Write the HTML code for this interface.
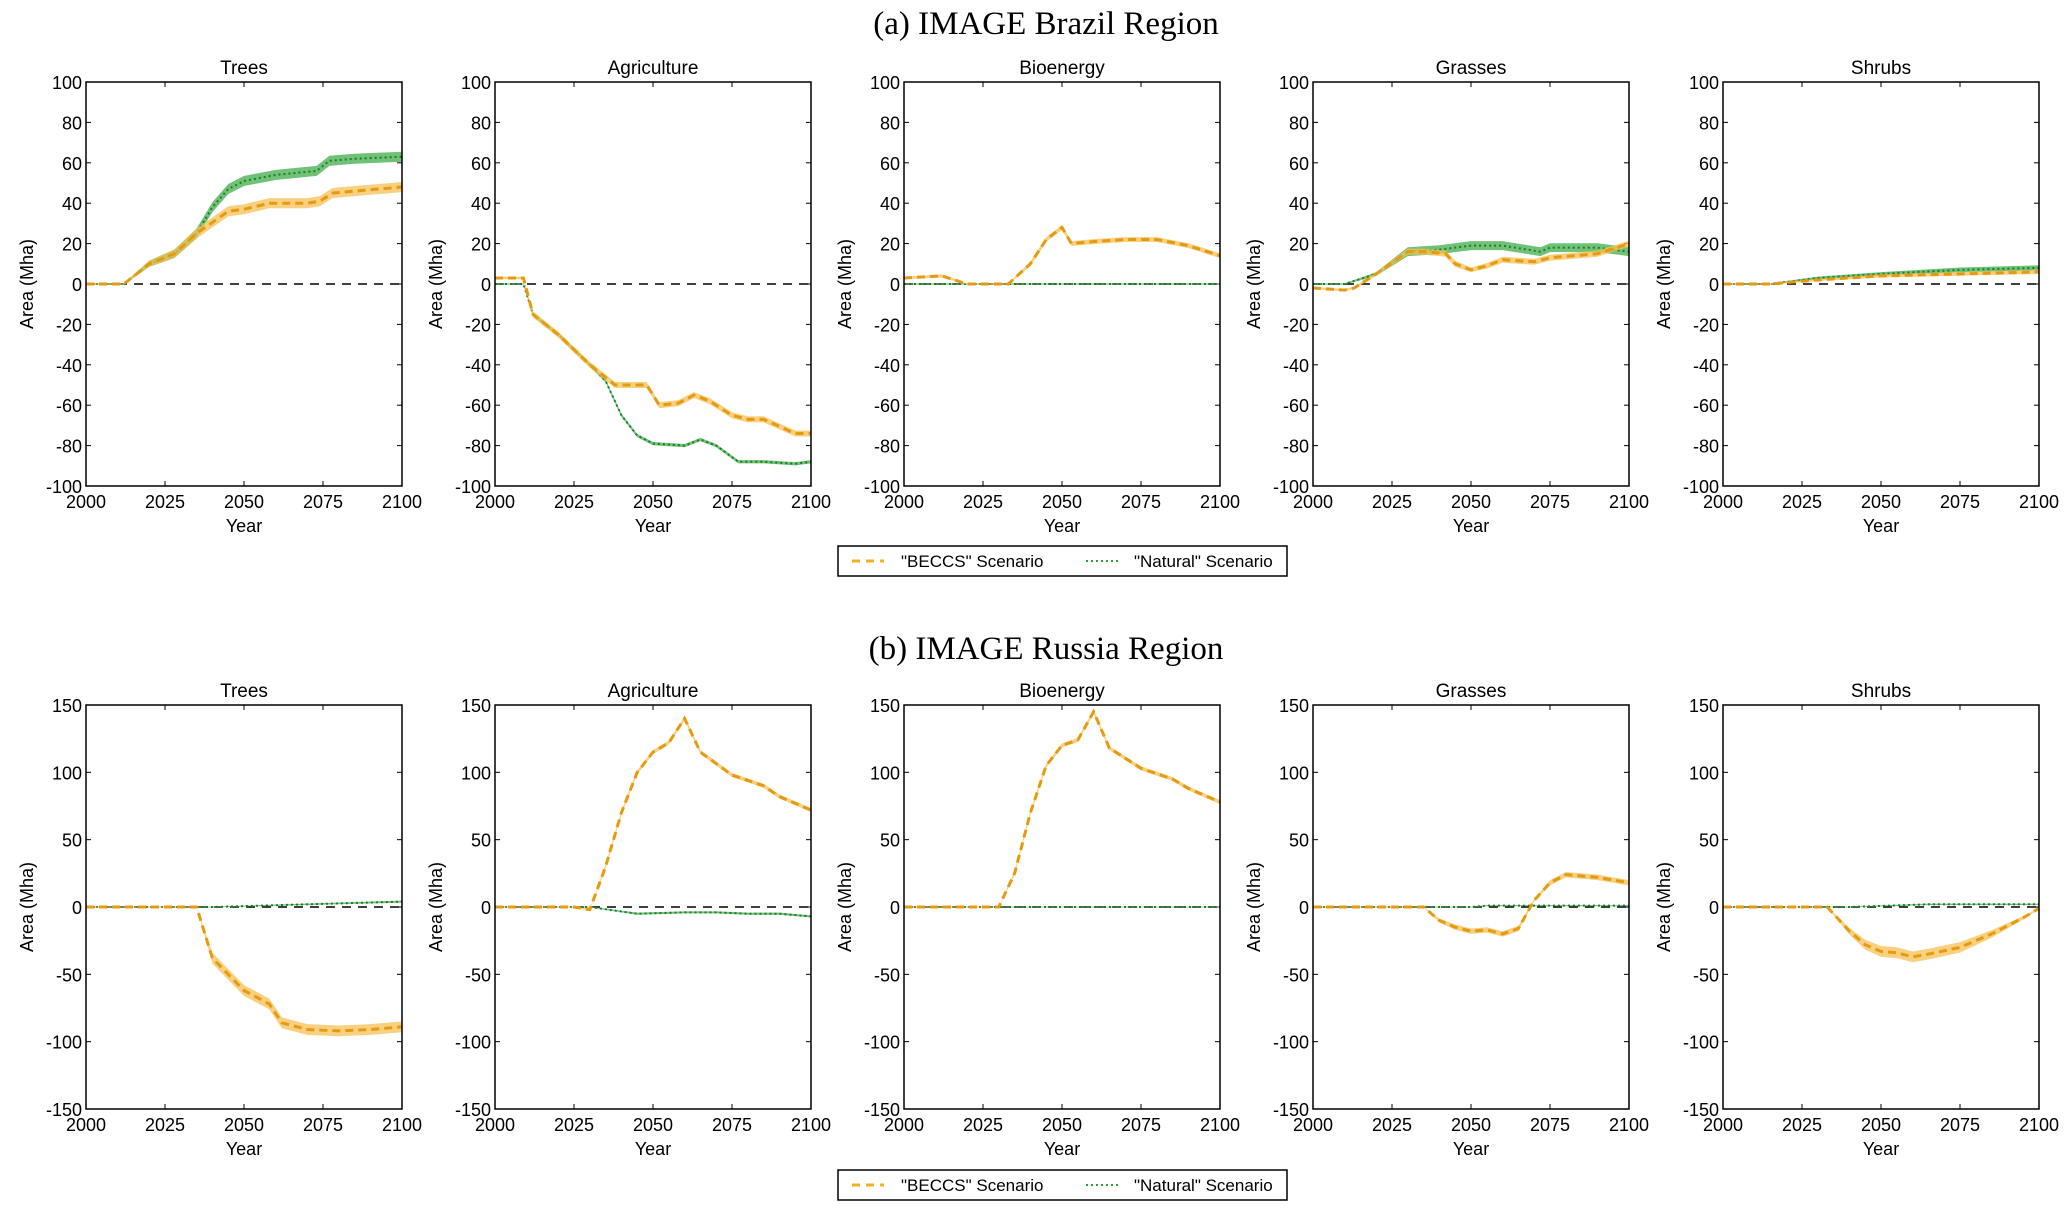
<!DOCTYPE html>
<html><head><meta charset="utf-8"><style>
html,body{margin:0;padding:0;background:#fff;}
svg{display:block;}
</style></head><body>
<svg id="s" width="2067" height="1217" xmlns="http://www.w3.org/2000/svg" font-family="Liberation Sans, sans-serif">
<text x="1046" y="34" font-family="Liberation Serif, serif" font-size="33" text-anchor="middle">(a) IMAGE Brazil Region</text>
<text x="1046" y="659" font-family="Liberation Serif, serif" font-size="33" text-anchor="middle">(b) IMAGE Russia Region</text>
<g>
<rect x="838" y="546" width="449" height="30" fill="#fff" stroke="#000" stroke-width="1.5"/>
<line x1="852" y1="561" x2="884" y2="561" stroke="#f5b021" stroke-width="3" stroke-dasharray="8,6"/>
<text x="901" y="567" font-size="17">"BECCS" Scenario</text>
<line x1="1086" y1="561" x2="1118" y2="561" stroke="#2e9e3a" stroke-width="2" stroke-dasharray="2,3"/>
<text x="1134" y="567" font-size="17">"Natural" Scenario</text>
</g>
<g>
<rect x="838" y="1170" width="449" height="30" fill="#fff" stroke="#000" stroke-width="1.5"/>
<line x1="852" y1="1185" x2="884" y2="1185" stroke="#f5b021" stroke-width="3" stroke-dasharray="8,6"/>
<text x="901" y="1191" font-size="17">"BECCS" Scenario</text>
<line x1="1086" y1="1185" x2="1118" y2="1185" stroke="#2e9e3a" stroke-width="2" stroke-dasharray="2,3"/>
<text x="1134" y="1191" font-size="17">"Natural" Scenario</text>
</g>
</svg>
<script>
(function(){
var S=document.getElementById('s'),NS='http://www.w3.org/2000/svg';
function el(t,a,txt){var e=document.createElementNS(NS,t);for(var k in a)e.setAttribute(k,a[k]);if(txt!=null)e.textContent=txt;S.appendChild(e);return e;}
var lefts=[86,495,904,1313,1723],W=316;
var titles=["Trees","Agriculture","Bioenergy","Grasses","Shrubs"];
var topD=[
 [[[2000,0],[2012,0],[2020,10],[2028,15],[2035,25],[2045,36],[2050,37],[2058,40],[2070,40],[2074,41],[2078,45],[2085,46],[2100,48]],2.5,
  [[2000,0],[2012,0],[2020,10],[2028,15],[2035,25],[2040,38],[2045,47],[2050,51],[2060,54],[2073,56],[2077,61],[2085,62],[2100,63]],2.5],
 [[[2000,3],[2009,3],[2012,-15],[2020,-25],[2030,-40],[2038,-50],[2048,-50],[2052,-60],[2058,-59],[2063,-55],[2068,-58],[2075,-65],[2080,-67],[2085,-67],[2095,-74],[2100,-74]],1.5,
  [[2000,0],[2009,0],[2012,-15],[2020,-25],[2030,-40],[2035,-48],[2040,-65],[2045,-75],[2050,-79],[2060,-80],[2065,-77],[2070,-80],[2077,-88],[2085,-88],[2095,-89],[2100,-88]],0.8],
 [[[2000,3],[2012,4],[2020,0],[2033,0],[2040,10],[2045,22],[2050,28],[2053,20],[2060,21],[2070,22],[2080,22],[2090,19],[2100,14]],1.2,
  [[2000,0],[2100,0]],0.5],
 [[[2000,-2],[2010,-3],[2013,-2],[2020,5],[2030,16],[2035,16],[2042,15],[2045,10],[2050,7],[2055,9],[2060,12],[2070,11],[2075,13],[2090,15],[2100,20]],1.5,
  [[2000,0],[2010,0],[2020,5],[2030,16],[2040,17],[2050,19],[2060,19],[2068,17],[2072,16],[2075,18],[2090,18],[2100,16]],2.2],
 [[[2000,0],[2015,0],[2030,2],[2050,4],[2075,5],[2100,6]],1.2,
  [[2000,0],[2015,0],[2030,3],[2050,5],[2075,7],[2100,8]],1.5]
];
var botD=[
 [[[2000,0],[2035,0],[2040,-38],[2045,-50],[2050,-62],[2058,-72],[2062,-86],[2070,-91],[2080,-92],[2090,-91],[2100,-89]],4,
  [[2000,0],[2040,0],[2100,4]],0.8],
 [[[2000,0],[2025,0],[2030,-2],[2035,30],[2040,70],[2045,100],[2050,115],[2055,122],[2060,140],[2065,115],[2075,98],[2085,90],[2090,82],[2100,72]],1.5,
  [[2000,0],[2030,0],[2045,-5],[2060,-4],[2070,-4],[2080,-5],[2090,-5],[2100,-7]],0.8],
 [[[2000,0],[2030,0],[2035,25],[2040,70],[2045,105],[2050,120],[2055,124],[2060,145],[2065,118],[2075,103],[2085,95],[2090,88],[2100,78]],1.5,
  [[2000,0],[2100,0]],0.5],
 [[[2000,0],[2035,0],[2040,-10],[2045,-15],[2050,-18],[2055,-17],[2060,-20],[2065,-16],[2070,5],[2075,18],[2080,24],[2090,22],[2100,18]],2,
  [[2000,0],[2050,0],[2055,1],[2100,1]],0.8],
 [[[2000,0],[2033,0],[2040,-18],[2045,-28],[2050,-33],[2055,-34],[2060,-37],[2065,-35],[2075,-30],[2085,-20],[2095,-8],[2100,-1]],4,
  [[2000,0],[2040,0],[2065,2],[2100,2]],0.8]
];
function panel(i,y0,y1,vmin,vmax,step,data,ttl){
 var x0=lefts[i],x1=x0+W;
 function X(t){return x0+(t-2000)/100*W;}
 function Y(v){return y1-(v-vmin)/(vmax-vmin)*(y1-y0);}
 el('text',{x:(x0+x1)/2,y:y0-8,'font-size':19,'text-anchor':'middle'},ttl);
 for(var v=vmin;v<=vmax;v+=step){
  var y=Y(v);
  el('line',{x1:x0,y1:y,x2:x0+5,y2:y,stroke:'#000','stroke-width':1});
  el('line',{x1:x1-5,y1:y,x2:x1,y2:y,stroke:'#000','stroke-width':1});
  el('text',{x:x0-4,y:y+7,'font-size':18,'text-anchor':'end'},String(v));
 }
 for(var t=2000;t<=2100;t+=25){
  var x=X(t);
  el('line',{x1:x,y1:y0,x2:x,y2:y0+5,stroke:'#000','stroke-width':1});
  el('line',{x1:x,y1:y1-5,x2:x,y2:y1,stroke:'#000','stroke-width':1});
  el('text',{x:x,y:y1+22,'font-size':18,'text-anchor':'middle'},String(t));
 }
 el('text',{x:(x0+x1)/2,y:y1+46,'font-size':18,'text-anchor':'middle'},'Year');
 el('text',{x:0,y:0,'font-size':18,'text-anchor':'middle',transform:'translate('+(x0-53)+','+((y0+y1)/2)+') rotate(-90)'},'Area (Mha)');
 el('line',{x1:x0,y1:Y(0),x2:x1,y2:Y(0),stroke:'#000','stroke-width':1.5,'stroke-dasharray':'9,7'});
 function bwf(v,bw){return Math.min(bw,0.3+Math.abs(v)*0.12);}
 function draw(pts,bw,col,bcol,dash,sw){
  var up=pts.map(function(p){return X(p[0])+','+Y(p[1]+bwf(p[1],bw));});
  var dn=pts.slice().reverse().map(function(p){return X(p[0])+','+Y(p[1]-bwf(p[1],bw));});
  el('polygon',{points:up.concat(dn).join(' '),fill:bcol,'fill-opacity':0.75});
  el('polyline',{points:pts.map(function(p){return X(p[0])+','+Y(p[1]);}).join(' '),fill:'none',stroke:col,'stroke-width':sw,'stroke-dasharray':dash});
 }
 draw(data[2],data[3],'#1f7a2a','#3fae48','2,3',2);
 draw(data[0],data[1],'#e59a10','#f7c055','8,5',3);
 el('rect',{x:x0,y:y0,width:W,height:y1-y0,fill:'none',stroke:'#000','stroke-width':1.5});
}
for(var i=0;i<5;i++){
 panel(i,82,486,-100,100,20,topD[i],titles[i]);
 panel(i,705,1109,-150,150,50,botD[i],titles[i]);
}
})();
</script>
</body></html>
